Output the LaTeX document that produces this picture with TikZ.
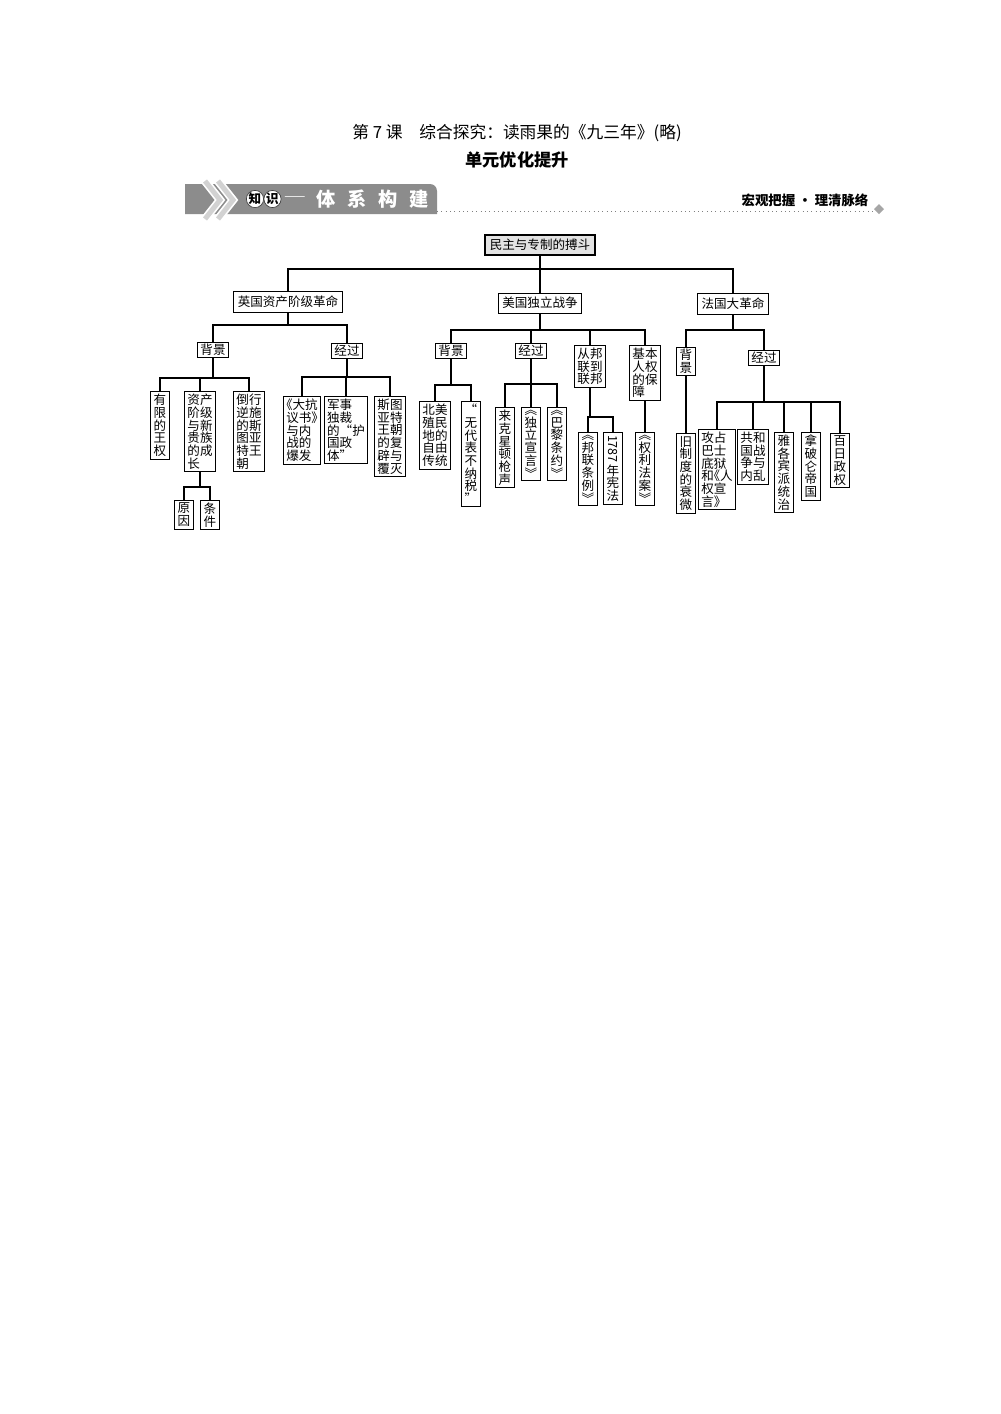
\documentclass[tikz,border=0pt]{standalone}
\usepackage{fontspec}
\setmainfont{Noto Sans CJK SC}
\usetikzlibrary{positioning}
\definecolor{bannergray}{gray}{0.55}
\newcommand\boxfont{\fontsize{7.5}{7.6}\selectfont}
\newcommand\openbk{\makebox[0.5em][r]{《}}
\newcommand\closebk{\makebox[0.5em][l]{》}}
\tikzset{
	treenode/.style = {draw=black, line width=0.6pt, fill=white, font=\boxfont, inner xsep=1.8pt, inner ysep=1.5pt, align=center},
	topic/.style = {treenode, fill=gray!22, line width=0.9pt, inner xsep=3pt, inner ysep=2.5pt},
	branch/.style = {treenode, inner xsep=2.5pt, inner ysep=2.5pt},
	stage/.style = {treenode, inner ysep=1pt},
	leaf/.style = {treenode, anchor=north},
	pairleaf/.style = {leaf, align=left},
	badge/.style = {circle, fill=white, draw=gray!50!black, line width=0.4pt, inner sep=0pt, minimum size=3.5mm, font=\fontsize{7.5}{8}\selectfont\bfseries},
	link/.style = {draw, line width=0.7pt}
}

\begin{document}
\begin{tikzpicture}[x=0.21mm, y=-0.21mm]
		\path [use as bounding box, fill=white] (0,0) rectangle (1000,1414);

		%标题
		\node (title) at (517,133) [font=\fontsize{10}{12}\selectfont] {第 7 课\quad 综合探究：读雨果的《九三年》(略)};
		\node (subtitle) at (517,160) [font=\fontsize{10.3}{12}\selectfont\bfseries] {单元优化提升};

		%栏目条
		\fill [bannergray] (185,214) -- (185,184) -- (430,184) to[out=0, in=90] (437,191) -- (437,214) -- cycle;
		\draw [white, line width=5pt] (205,181) -- (220,200) -- (205,219);
		\draw [gray!35, line width=3pt] (205,181) -- (220,200) -- (205,219);
		\draw [white, line width=5pt] (218,181) -- (233,200) -- (218,219);
		\draw [gray!35, line width=3pt] (218,181) -- (233,200) -- (218,219);
		\node (zhi) [badge] at (255,199) {知};
		\node (shi) [badge] at (272.5,199) {识};
		\node (dash) at (295,199) [font=\fontsize{7.5}{8}\selectfont, text=white] {——};
		\node (banner) at (372.5,199) [font=\fontsize{11.5}{12}\selectfont\bfseries, text=white] {体\hspace{7pt}系\hspace{7pt}构\hspace{7pt}建};
		\node (motto) at (805,200) [font=\fontsize{8}{9}\selectfont\bfseries] {宏观把握 · 理清脉络};
		\draw [gray, dotted, line width=0.6pt] (437,211) -- (873,211);
		\fill [gray!70] (879,204) -- (884,209) -- (879,214) -- (874,209) -- cycle;

		%结构图节点
		\node (root) [topic] at (540,245) {民主与专制的搏斗};
		\coordinate (rootbus) at (0,269);
		\node (eng) [branch] at (288,302) {英国资产阶级革命};
		\node (usa) [branch] at (540,303) {美国独立战争};
		\node (fra) [branch] at (733,304) {法国大革命};

		\coordinate (engbus) at (0,325);
		\node (engbg) [stage] at (213,350) {背景};
		\node (engjg) [stage] at (347,351) {经过};
		\coordinate (engbgbus) at (0,378);
		\node (wangquan) [leaf] at (160,391) {有\\限\\的\\王\\权};
		\node (zichan) [pairleaf] at (200,391) {资产\\阶级\\与新\\贵族\\的成\\长};
		\node (stuart) [pairleaf] at (249,391) {倒行\\逆施\\的斯\\图亚\\特王\\朝};
		\coordinate (zichanbus) at (0,487);
		\node (yuanyin) [leaf] at (184,500) {原\\因};
		\node (tiaojian) [leaf] at (210,500) {条\\件};
		\coordinate (engjgbus) at (0,377);
		\node (kangyi) [pairleaf] at (302,396) {\openbk 大抗\\议书\closebk\\与内\\战的\\爆发};
		\node (huguo) [pairleaf] at (346,396) {军事\\独裁\\的“护\\国政\\体”};
		\node (fupi) [pairleaf] at (390,396) {斯图\\亚特\\王朝\\的复\\辟与\\覆灭};

		\coordinate (usabus) at (0,330);
		\node (usabg) [stage] at (451,351) {背景};
		\node (usajg) [stage] at (531,351) {经过};
		\node (lianbang) [pairleaf] at (590,345) {从邦\\联到\\联邦};
		\node (renquan) [pairleaf] at (645,345) {基本\\人权\\的保\\障};
		\coordinate (usabgbus) at (0,385);
		\node (ziyou) [pairleaf] at (435,401) {北美\\殖民\\地的\\自由\\传统};
		\node (nashui) [leaf] at (471,401) {“\\无\\代\\表\\不\\纳\\税\\”};
		\coordinate (usajgbus) at (0,384);
		\node (qiangsheng) [leaf] at (505,407) {来\\克\\星\\顿\\枪\\声};
		\node (xuanyan) [leaf] at (531,407) {︽\\独\\立\\宣\\言\\︾};
		\node (tiaoyue) [leaf] at (557,407) {︽\\巴\\黎\\条\\约\\︾};
		\coordinate (lianbangbus) at (0,417);
		\node (tiaoli) [leaf] at (588,432) {︽\\邦\\联\\条\\例\\︾};
		\node (xianfa) [leaf] at (613,432) {\rotatebox{-90}{1787}\\年\\宪\\法};
		\node (faan) [leaf] at (645,432) {︽\\权\\利\\法\\案\\︾};

		\coordinate (frabus) at (0,330);
		\node (frabg) [leaf, inner ysep=1pt] at (686,347) {背\\景};
		\node (frajg) [stage] at (764,358) {经过};
		\node (jiuzhi) [leaf] at (686,433) {旧\\制\\度\\的\\衰\\微};
		\coordinate (frajgbus) at (0,402);
		\node (bastille) [pairleaf] at (717,429) {攻占\\巴士\\底狱\\和\openbk 人\\权宣\\言\closebk};
		\node (neiluan) [pairleaf] at (753,429) {共和\\国战\\争与\\内乱};
		\node (yakebin) [leaf] at (784,432) {雅\\各\\宾\\派\\统\\治};
		\node (napolun) [leaf] at (811,432) {拿\\破\\仑\\帝\\国};
		\node (bairi) [leaf] at (840,433) {百\\日\\政\\权};

		%连线
		\path [link] (root.south) -- (root.south |- rootbus) -| (eng.north);
		\path [link] (root.south) -- (root.south |- rootbus) -| (usa.north);
		\path [link] (root.south) -- (root.south |- rootbus) -| (fra.north);

		\path [link] (eng.south) -- (eng.south |- engbus) -| (engbg.north);
		\path [link] (eng.south) -- (eng.south |- engbus) -| (engjg.north);
		\path [link] (engbg.south) -- (engbg.south |- engbgbus) -| (wangquan.north);
		\path [link] (engbg.south) -- (engbg.south |- engbgbus) -| (zichan.north);
		\path [link] (engbg.south) -- (engbg.south |- engbgbus) -| (stuart.north);
		\path [link] (zichan.south) -- (zichan.south |- zichanbus) -| (yuanyin.north);
		\path [link] (zichan.south) -- (zichan.south |- zichanbus) -| (tiaojian.north);
		\path [link] (engjg.south) -- (engjg.south |- engjgbus) -| (kangyi.north);
		\path [link] (engjg.south) -- (engjg.south |- engjgbus) -| (huguo.north);
		\path [link] (engjg.south) -- (engjg.south |- engjgbus) -| (fupi.north);

		\path [link] (usa.south) -- (usa.south |- usabus) -| (usabg.north);
		\path [link] (usa.south) -- (usa.south |- usabus) -| (usajg.north);
		\path [link] (usa.south) -- (usa.south |- usabus) -| (lianbang.north);
		\path [link] (usa.south) -- (usa.south |- usabus) -| (renquan.north);
		\path [link] (usabg.south) -- (usabg.south |- usabgbus) -| (ziyou.north);
		\path [link] (usabg.south) -- (usabg.south |- usabgbus) -| (nashui.north);
		\path [link] (usajg.south) -- (usajg.south |- usajgbus) -| (qiangsheng.north);
		\path [link] (usajg.south) -- (usajg.south |- usajgbus) -| (xuanyan.north);
		\path [link] (usajg.south) -- (usajg.south |- usajgbus) -| (tiaoyue.north);
		\path [link] (lianbang.south) -- (lianbang.south |- lianbangbus) -| (tiaoli.north);
		\path [link] (lianbang.south) -- (lianbang.south |- lianbangbus) -| (xianfa.north);
		\path [link] (renquan.south) -- (faan.north);

		\path [link] (fra.south) -- (fra.south |- frabus) -| (frabg.north);
		\path [link] (fra.south) -- (fra.south |- frabus) -| (frajg.north);
		\path [link] (frabg.south) -- (jiuzhi.north);
		\path [link] (frajg.south) -- (frajg.south |- frajgbus) -| (bastille.north);
		\path [link] (frajg.south) -- (frajg.south |- frajgbus) -| (neiluan.north);
		\path [link] (frajg.south) -- (frajg.south |- frajgbus) -| (yakebin.north);
		\path [link] (frajg.south) -- (frajg.south |- frajgbus) -| (napolun.north);
		\path [link] (frajg.south) -- (frajg.south |- frajgbus) -| (bairi.north);
		\end{tikzpicture}
\end{document}
